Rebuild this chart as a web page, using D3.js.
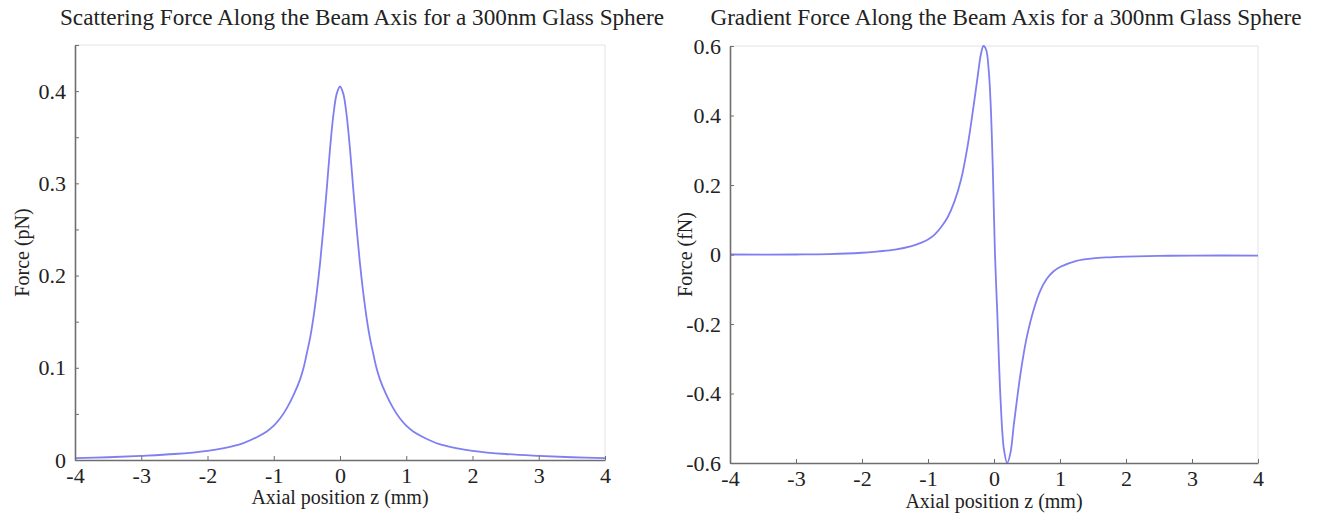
<!DOCTYPE html>
<html>
<head>
<meta charset="utf-8">
<script src="https://cdn.jsdelivr.net/npm/d3@7"></script>
<style>
  html, body { margin: 0; padding: 0; background: #fff; }
  svg { display: block; }
  text { font-family: "Liberation Serif", "Times New Roman", serif; fill: #222; }
</style>
</head>
<body>
<svg id="chart" width="1322" height="518"></svg>
<script>
// Axial positions (mm) and scattering force (pN)
const scatterZ = [-4, -3.5, -3, -2.5, -2, -1.75, -1.5, -1.25, -1.1, -1, -0.9, -0.8, -0.7, -0.6, -0.55, -0.5, -0.45, -0.4, -0.35, -0.3, -0.25, -0.2, -0.15, -0.1, -0.05, 0,
                  0.05, 0.1, 0.15, 0.2, 0.25, 0.3, 0.35, 0.4, 0.45, 0.5, 0.55, 0.6, 0.7, 0.8, 0.9, 1, 1.1, 1.25, 1.5, 1.75, 2, 2.5, 3, 3.5, 4];
const scatterForce = [0.002, 0.003, 0.0045, 0.0065, 0.010, 0.013, 0.0172, 0.025, 0.0312, 0.0372, 0.0455, 0.0565, 0.0705, 0.088, 0.100, 0.116, 0.133, 0.155, 0.182, 0.214, 0.252, 0.294, 0.338, 0.374, 0.397, 0.405,
                      0.397, 0.374, 0.338, 0.294, 0.252, 0.214, 0.182, 0.155, 0.133, 0.116, 0.100, 0.088, 0.0705, 0.0565, 0.0455, 0.0372, 0.0312, 0.025, 0.0172, 0.013, 0.010, 0.0065, 0.0045, 0.003, 0.002];

// Axial positions (mm) and gradient force (fN)
const gradientZ = [-4, -3, -2.5, -2, -1.75, -1.5, -1.25, -1.1, -1, -0.9, -0.8, -0.7, -0.6, -0.5, -0.4, -0.3, -0.24, -0.2, -0.16, -0.12, -0.08, -0.05, -0.02,
                   0.015, 0.05, 0.1, 0.15, 0.2, 0.25, 0.3, 0.35, 0.4, 0.45, 0.5, 0.6, 0.7, 0.8, 0.9, 1, 1.25, 1.5, 1.75, 2, 2.5, 3, 4];
const gradientForce = [0, 0, 0.001, 0.005, 0.009, 0.014, 0.024, 0.034, 0.043, 0.057, 0.079, 0.108, 0.152, 0.215, 0.312, 0.44, 0.523, 0.575, 0.600, 0.590, 0.53, 0.43, 0.26,
                       0.0, -0.17, -0.42, -0.56, -0.60, -0.57, -0.49, -0.415, -0.345, -0.285, -0.235, -0.16, -0.105, -0.070, -0.049, -0.036, -0.018, -0.011, -0.008, -0.006, -0.004, -0.003, -0.003];

// Axis ticks
const xTicks = [-4, -3, -2, -1, 0, 1, 2, 3, 4];
const scatterYTicks = [0, 0.05, 0.1, 0.15, 0.2, 0.25, 0.3, 0.35, 0.4, 0.45];
const gradientYTicks = [-0.6, -0.4, -0.2, 0, 0.2, 0.4, 0.6];

const titles = [
  "Scattering Force Along the Beam Axis for a 300nm Glass Sphere",
  "Gradient Force Along the Beam Axis for a 300nm Glass Sphere"
];
const yLabels = ["Force (pN)", "Force (fN)"];
const xLabel = "Axial position z (mm)";

const svg = d3.select("#chart");
const lineColor = "#7f7ff2";

function fmt(v) {
  const r = Math.round(v * 10);
  if (Math.abs(v * 10 - r) > 1e-6) return "";
  return String(+(r / 10).toFixed(1));
}

function drawPanel(cfg) {
  const { left, right, top, bottom, yDomain, zs, vs, yTicks, title, titleX, yLabel, yLabelX, xLabelY, clipId } = cfg;
  const x = d3.scaleLinear().domain([-4, 4]).range([left, right]);
  const y = d3.scaleLinear().domain(yDomain).range([bottom, top]);

  const g = svg.append("g");

  // light frame around the plotting area
  g.append("path")
    .attr("d", `M${left},${top}H${right}V${bottom}`)
    .attr("fill", "none")
    .attr("stroke", "#e2e2e2")
    .attr("stroke-width", 1);

  // data line
  g.append("clipPath").attr("id", clipId)
    .append("rect").attr("x", left).attr("y", top - 1).attr("width", right - left).attr("height", bottom - top + 2);

  const pts = zs.map((z, i) => [z, vs[i]]);
  g.append("path")
    .datum(pts)
    .attr("clip-path", `url(#${clipId})`)
    .attr("fill", "none")
    .attr("stroke", lineColor)
    .attr("stroke-width", 1.8)
    .attr("d", d3.line().x(d => x(d[0])).y(d => y(d[1])).curve(d3.curveCatmullRom.alpha(0.5)));

  // x axis
  const xAxis = d3.axisBottom(x).tickValues(xTicks).tickSizeInner(-4).tickSizeOuter(0).tickPadding(7)
    .tickFormat(d => String(d));
  const gx = g.append("g").attr("transform", `translate(0,${bottom})`).call(xAxis);
  gx.select(".domain").attr("stroke", "#6e6e6e").attr("stroke-width", 1.6);
  gx.selectAll(".tick line").attr("stroke", "#6e6e6e").attr("stroke-width", 1);
  gx.selectAll(".tick text").attr("font-size", 22).attr("fill", "#1a1a1a")
    .attr("font-family", '"Liberation Serif", serif');

  // y axis
  const yAxis = d3.axisLeft(y).tickValues(yTicks).tickSizeInner(-4).tickSizeOuter(0).tickPadding(9)
    .tickFormat(fmt);
  const gy = g.append("g").attr("transform", `translate(${left},0)`).call(yAxis);
  gy.select(".domain").attr("stroke", "#6e6e6e").attr("stroke-width", 1.6);
  gy.selectAll(".tick line").attr("stroke", "#6e6e6e").attr("stroke-width", 1);
  gy.selectAll(".tick text").attr("font-size", 22).attr("fill", "#1a1a1a")
    .attr("font-family", '"Liberation Serif", serif');

  // title
  g.append("text")
    .attr("x", titleX).attr("y", 25)
    .attr("text-anchor", "middle")
    .attr("font-size", 23.2)
    .attr("fill", "#111")
    .text(title);

  // axis labels
  g.append("text")
    .attr("x", (left + right) / 2).attr("y", xLabelY)
    .attr("text-anchor", "middle")
    .attr("font-size", 20)
    .text(xLabel);

  g.append("text")
    .attr("transform", `translate(${yLabelX},${(top + bottom) / 2}) rotate(-90)`)
    .attr("text-anchor", "middle")
    .attr("font-size", 20)
    .text(yLabel);
}

drawPanel({
  left: 75, right: 605, top: 45, bottom: 460,
  yDomain: [0, 0.45], zs: scatterZ, vs: scatterForce, yTicks: scatterYTicks,
  title: titles[0], titleX: 362, yLabel: yLabels[0], yLabelX: 29, xLabelY: 504, clipId: "clipA"
});

drawPanel({
  left: 730, right: 1258, top: 46, bottom: 463,
  yDomain: [-0.6, 0.6], zs: gradientZ, vs: gradientForce, yTicks: gradientYTicks,
  title: titles[1], titleX: 1006, yLabel: yLabels[1], yLabelX: 692, xLabelY: 508, clipId: "clipB"
});
</script>
</body>
</html>
